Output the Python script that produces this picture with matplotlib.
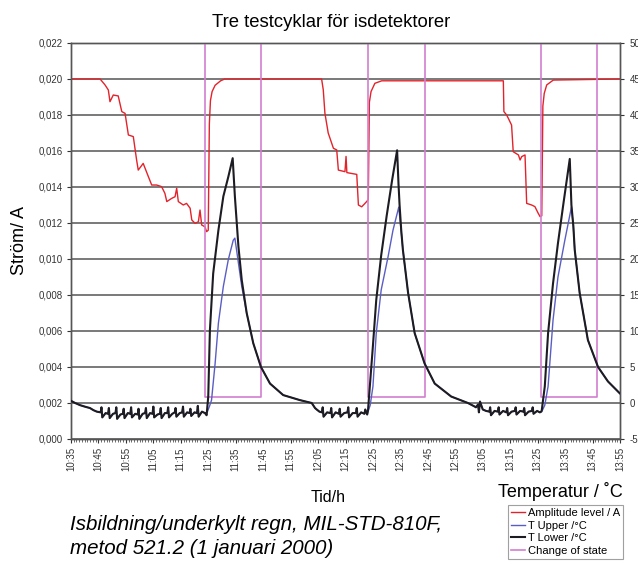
import matplotlib
matplotlib.use("Agg")
import matplotlib.pyplot as plt
from matplotlib.ticker import MultipleLocator, FixedLocator

plt.rcParams['font.family'] = ['Liberation Sans', 'DejaVu Sans']

# time axis: minutes after 10:35
tick_minutes = list(range(0, 201, 10))
tick_labels = ['10:35', '10:45', '10:55', '11:05', '11:15', '11:25', '11:35',
               '11:45', '11:55', '12:05', '12:15', '12:25', '12:35', '12:45',
               '12:55', '13:05', '13:15', '13:25', '13:35', '13:45', '13:55']

# Amplitude level / A (left axis)
amp_t = [0, 7, 10.6, 12.4, 13.6, 14.2, 15.4, 17.2, 18.5, 19.7, 20.9, 22.7, 23.9,
         24.5, 26.3, 28.2, 29.4, 31.2, 33.0, 34.2, 34.9, 36.7, 37.9, 38.5, 39.1,
         40.9, 42.1, 43.4, 44.0, 45.2, 46.4, 47.0, 47.6, 48.8, 49.4, 50.0, 50.4,
         50.8, 51.4, 52.5, 54.5, 56, 91.3, 91.9, 92.5, 93.7, 95.6, 96.8, 97.4,
         99.8, 100.2, 100.5, 104.1, 104.7, 105.9, 107.1, 107.7, 108.3, 108.7,
         109.3, 110.7, 113.2, 157.5, 157.7, 158.7, 159.3, 160.5, 161.1, 163.0,
         163.6, 164.2, 165.4, 166.0, 167.8, 169.0, 170.2, 170.9, 171.5, 171.9,
         172.4, 173.3, 175.7, 200]
amp = [0.0200, 0.0200, 0.0200, 0.01967, 0.01939, 0.01874, 0.01911, 0.01906,
       0.01819, 0.01809, 0.01689, 0.01680, 0.01550, 0.01494, 0.01531, 0.01457,
       0.01411, 0.01411, 0.01402, 0.01365, 0.01319, 0.01337, 0.01346, 0.01393,
       0.01319, 0.01300, 0.01309, 0.01282, 0.01217, 0.01198, 0.01207, 0.01272,
       0.01189, 0.01179, 0.01152, 0.01160, 0.01750, 0.01880, 0.01930, 0.01965,
       0.01990, 0.0200, 0.0200, 0.0194, 0.0181, 0.0170, 0.01615, 0.01606,
       0.01494, 0.01485, 0.0157, 0.0148, 0.0147, 0.0130, 0.0129, 0.01309,
       0.01319, 0.0133, 0.0187, 0.0193, 0.01976, 0.0199, 0.0199, 0.01819,
       0.0180, 0.01782, 0.01744, 0.01596, 0.01578, 0.0155, 0.01569, 0.01578,
       0.01309, 0.0130, 0.01291, 0.01254, 0.01235, 0.0124, 0.0185, 0.0192,
       0.01967, 0.01994, 0.0200]

# temperature baselines (shared by T Upper and T Lower), degC
base1_t = [0.0, 1.5, 3.3, 5.0, 6.9, 8.2, 9.4,
           10.8, 11.1, 11.4, 12.6, 13.5, 13.8, 14.1, 15.3, 16.2, 16.5, 16.8, 18.0,
           18.9, 19.2, 19.5, 20.7, 21.6, 21.9, 22.2, 23.4, 24.3, 24.6, 24.9, 26.1,
           27.0, 27.3, 27.6, 28.8, 29.7, 30.0, 30.3, 31.5, 32.4, 32.7, 33.0, 34.2,
           35.1, 35.4, 35.7, 36.9, 37.8, 38.1, 38.4, 39.6, 40.5, 40.8, 41.1, 42.3,
           43.2, 43.5, 43.8, 45.0, 45.9, 46.2, 46.5, 47.7, 48.8]
base1_T = [0.3, 0.0, -0.3, -0.5, -0.7, -1.0, -1.2,
           -1.3, -0.6, -2.0, -1.4, -1.5, -0.7, -2.1, -1.5, -1.4, -0.6, -2.2, -1.6,
           -1.5, -0.8, -2.1, -1.4, -1.5, -0.6, -2.0, -1.5, -1.6, -0.8, -2.2, -1.5,
           -1.4, -0.7, -2.1, -1.4, -1.5, -0.5, -2.0, -1.6, -1.5, -0.7, -2.1, -1.4,
           -1.4, -0.6, -2.0, -1.5, -1.3, -0.7, -1.9, -1.4, -1.3, -0.5, -1.9, -1.3,
           -1.4, -0.8, -1.8, -1.3, -1.4, -0.4, -1.9, -1.2, -1.4]
base2_t = [89.5, 90.5, 91.4, 91.7, 92.0, 93.3, 94.5, 94.8, 95.1, 96.4, 97.6, 97.9,
           98.2, 99.5, 100.7, 101.0, 101.3, 102.6, 103.8, 104.1, 104.4, 105.7,
           106.9, 107.2, 107.9]
base2_T = [-0.9, -1.2, -1.3, -0.6, -1.9, -1.3, -1.4, -0.7, -2.0, -1.3, -1.5, -0.8,
           -1.9, -1.4, -1.3, -0.6, -2.0, -1.4, -1.4, -0.7, -1.9, -1.3, -1.5, -0.9,
           -1.6]
base3_t = [147.5, 148.3, 148.6, 149.0, 150.0, 151.2, 152.4, 152.7, 153.0, 154.3,
           155.5, 155.8, 156.1, 157.4, 158.6, 158.9, 159.2, 160.5, 161.7, 162.0,
           162.3, 163.6, 164.8, 165.1, 165.4, 166.7, 167.9, 168.2, 168.5, 169.8,
           170.8, 171.3]
base3_T = [-0.6, -0.2, -1.3, 0.2, -0.9, -1.1, -1.2, -0.6, -1.7, -1.1, -1.2, -0.6,
           -1.6, -1.1, -1.3, -0.7, -1.7, -1.2, -1.1, -0.6, -1.6, -1.1, -1.2, -0.7,
           -1.7, -1.2, -1.1, -0.6, -1.5, -1.1, -1.3, -1.2]

# heating peaks
low1_t = [49.4, 50.0, 50.6, 51.8, 53.7, 55.5, 57.3, 58.9, 59.7, 61.0, 62.2]
low1_T = [-1.7, 0.9, 10.1, 18.0, 24.0, 28.7, 31.4, 34.0, 28.7, 21.7, 17.1]
up1_t = [49.4, 50.4, 51.2, 52.5, 53.7, 55.5, 57.3, 59.1, 59.7, 61.0, 62.2]
up1_T = [-1.5, -0.5, 0.4, 5.5, 11.1, 16.2, 19.9, 22.6, 22.9, 19.4, 16.2]
decay1_t = [64.0, 66.4, 69.2, 72.5, 77.3, 83.4, 87.7, 88.9]
decay1_T = [12.5, 8.3, 5.0, 2.7, 1.1, 0.4, 0.0, -0.7]

low2_t = [108.2, 109.0, 110.0, 111.2, 113.0, 115.0, 117.0, 118.8, 119.3, 119.7, 120.3]
low2_T = [-1.0, 3.0, 8.0, 14.3, 20.5, 26.0, 31.0, 35.1, 30.5, 27.5, 24.0]
up2_t = [108.2, 109.0, 110.0, 111.2, 113.0, 115.5, 117.3, 119.4, 120.3]
up2_T = [-1.2, -0.3, 2.3, 9.7, 15.7, 20.3, 24.0, 27.2, 23.8]
decay2_t = [120.9, 122.8, 125.2, 128.8, 132.5, 138.5, 144.6, 147.1]
decay2_T = [21.3, 15.3, 9.7, 5.5, 2.7, 0.9, 0.0, -0.5]

low3_t = [171.5, 172.6, 173.8, 175.6, 177.4, 179.5, 181.7, 182.3, 183.0]
low3_T = [-1.0, 2.3, 9.7, 16.6, 22.2, 28.0, 33.9, 27.5, 24.6]
up3_t = [171.5, 172.6, 173.8, 175.6, 177.4, 179.9, 182.3, 183.0]
up3_T = [-1.2, -0.3, 2.3, 11.5, 17.5, 22.6, 27.2, 24.5]
decay3_t = [183.5, 185.3, 188.3, 192.0, 195.6, 199.9]
decay3_T = [21.3, 15.3, 8.75, 5.0, 3.0, 1.35]

# change of state (right axis)
cos_t = [0, 48.8, 48.8, 69.2, 69.2, 108.2, 108.2, 129.0, 129.0, 171.2, 171.2,
         191.6, 191.6, 200]
cos_T = [50, 50, 0.9, 0.9, 50, 50, 0.9, 0.9, 50, 50, 0.9, 0.9, 50, 50]

low_t = base1_t + low1_t + decay1_t + base2_t + low2_t + decay2_t + base3_t + low3_t + decay3_t
low_T = base1_T + low1_T + decay1_T + base2_T + low2_T + decay2_T + base3_T + low3_T + decay3_T
up_t = base1_t + up1_t + decay1_t + base2_t + up2_t + decay2_t + base3_t + up3_t + decay3_t
up_T = base1_T + up1_T + decay1_T + base2_T + up2_T + decay2_T + base3_T + up3_T + decay3_T

grid_c = '#555555'
fig = plt.figure(figsize=(6.38, 5.64), dpi=100)
ax = fig.add_axes([71/638, 125/564, 549/638, 396/564])
ax2 = ax.twinx()

l_amp, = ax.plot(amp_t, amp, color='#e3232b', lw=1.0, label='Amplitude level / A')
l_up, = ax2.plot(up_t, up_T, color='#5a5ec4', lw=1.0, label='T Upper /°C')
l_low, = ax2.plot(low_t, low_T, color='#1c1c22', lw=1.5, label='T Lower /°C')
l_cos, = ax2.plot(cos_t, cos_T, color='#d27fd0', lw=1.2, label='Change of state', zorder=1)
l_up.set_zorder(2)
l_low.set_zorder(3)

ax.set_xlim(0, 200)
ax.set_ylim(0, 0.022)
ax2.set_ylim(-5, 50)

ax.yaxis.set_major_locator(MultipleLocator(0.002))
ax.set_yticklabels([f'{v:.3f}'.replace('.', ',') for v in ax.get_yticks()])
ax2.yaxis.set_major_locator(MultipleLocator(5))
ax2.set_yticklabels([f'{v:.0f}' for v in ax2.get_yticks()])
ax.xaxis.set_major_locator(FixedLocator(tick_minutes))
ax.set_xticklabels(tick_labels, rotation=90)
ax.xaxis.set_minor_locator(MultipleLocator(1))

ax.grid(axis='y', color=grid_c, lw=1.1)
ax.set_axisbelow(True)
for a in (ax, ax2):
    for s in a.spines.values():
        s.set_color(grid_c)
        s.set_linewidth(1.0)
ax.tick_params(axis='both', labelsize=7, colors='#333333', length=3, width=0.8, pad=3)
ax.tick_params(axis='x', which='minor', length=2, width=0.6, colors='#555555')
ax2.tick_params(axis='y', labelsize=7, colors='#333333', length=3, width=0.8, pad=4)

fig.text(331/638, 1 - 27/564, 'Tre testcyklar för isdetektorer', ha='center',
         va='baseline', fontsize=13.3)
fig.text(20/638, 1 - 241/564, 'Ström/ A', rotation=90, ha='center', va='center',
         fontsize=13)
fig.text(328/638, 1 - 502/564, 'Tid/h', ha='center', va='baseline', fontsize=11.5)
fig.text(623/638, 1 - 497/564, 'Temperatur / ˚C', ha='right', va='baseline',
         fontsize=13)
fig.text(70/638, 1 - 530/564, 'Isbildning/underkylt regn, MIL-STD-810F,',
         ha='left', va='baseline', fontsize=14.8, style='italic')
fig.text(70/638, 1 - 554/564, 'metod 521.2 (1 januari 2000)',
         ha='left', va='baseline', fontsize=14.8, style='italic')

leg = fig.legend(handles=[l_amp, l_up, l_low, l_cos], loc='upper right',
                 bbox_to_anchor=(623/638, 1 - 505/564), fontsize=8,
                 frameon=True, fancybox=False, edgecolor='#888888',
                 borderpad=0.3, handlelength=1.3, handletextpad=0.2,
                 labelspacing=0.22, borderaxespad=0)
leg.get_frame().set_linewidth(0.8)

fig.savefig('out.png', dpi=100)
